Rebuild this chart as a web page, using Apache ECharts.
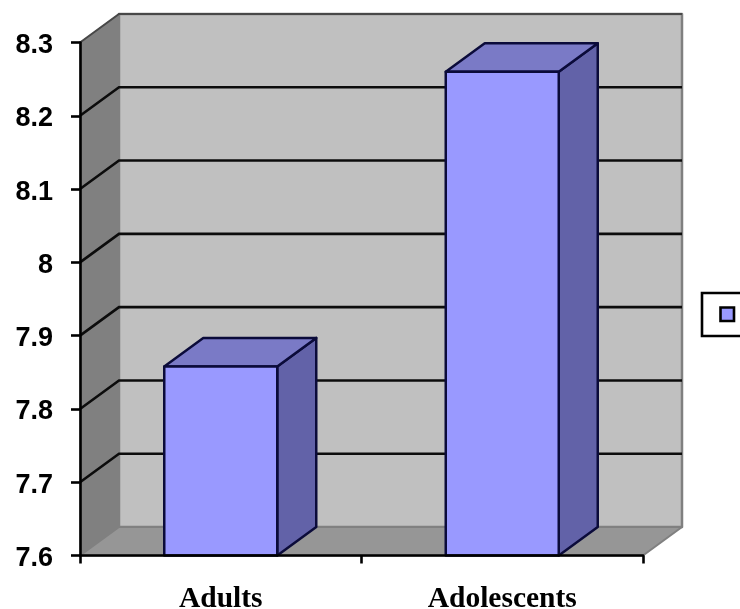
<!DOCTYPE html>
<html>
<head>
<meta charset="utf-8">
<style>html,body{margin:0;padding:0;background:#fff;overflow:hidden}#chart{width:740px;height:609px}</style>
<script src="https://cdn.jsdelivr.net/npm/echarts@6/dist/echarts.min.js"></script>
</head>
<body>
<div id="chart"></div>
<script>
const categories = ['Adults', 'Adolescents'];
const values = [7.858, 8.26];
const yMin = 7.6;
const yMax = 8.3;
const yStep = 0.1;
const yGridLevels = [7.7, 7.8, 7.9, 8.0, 8.1, 8.2];

// Oblique projection of the chart box: how far the back plane is shifted from the front plane.
const DEPTH_X = 39;
const DEPTH_Y = -28.5;
const BAR_WIDTH = 113;

const chart = echarts.init(document.getElementById('chart'));

function poly(points, fill, stroke, lineWidth) {
  return {
    type: 'polygon',
    shape: { points: points },
    style: { fill: fill, stroke: stroke || 'none', lineWidth: lineWidth || 0, lineJoin: 'round' }
  };
}

// Back wall, side wall, floor and the gridlines that fold across both walls.
function renderBox(params, api) {
  const grid = params.coordSys;
  const x0 = grid.x;
  const x1 = grid.x + grid.width;
  const yb = api.coord([0, yMin])[1];
  const yt = api.coord([0, yMax])[1];
  const children = [
    poly([[x0 + DEPTH_X, yt + DEPTH_Y], [x1 + DEPTH_X, yt + DEPTH_Y], [x1 + DEPTH_X, yb + DEPTH_Y], [x0 + DEPTH_X, yb + DEPTH_Y]], '#c0c0c0', '#808080', 2.5),
    poly([[x0, yt], [x0 + DEPTH_X, yt + DEPTH_Y], [x0 + DEPTH_X, yb + DEPTH_Y], [x0, yb]], '#808080', '#808080', 1),
    poly([[x0, yb], [x0 + DEPTH_X, yb + DEPTH_Y], [x1 + DEPTH_X, yb + DEPTH_Y], [x1, yb]], '#969696', '#808080', 2)
  ];
  yGridLevels.concat([yMax]).forEach(function (level) {
    const y = api.coord([0, level])[1];
    const isTop = level === yMax;
    children.push({
      type: 'polyline',
      shape: { points: [[x0, y], [x0 + DEPTH_X, y + DEPTH_Y], [x1 + DEPTH_X, y + DEPTH_Y]] },
      style: { fill: 'none', stroke: isTop ? '#484848' : '#0c0c0c', lineWidth: isTop ? 2 : 2.6 }
    });
  });
  return { type: 'group', children: children };
}

// One bar as an extruded box: front face, top face and right-hand face.
function renderBar(params, api) {
  const cx = api.coord([api.value(0), yMin])[0];
  const yb = api.coord([api.value(0), yMin])[1];
  const yt = api.coord([api.value(0), api.value(1)])[1];
  const l = cx - BAR_WIDTH / 2;
  const r = cx + BAR_WIDTH / 2;
  const edge = '#0b0b3a';
  return {
    type: 'group',
    children: [
      poly([[r, yt], [r + DEPTH_X, yt + DEPTH_Y], [r + DEPTH_X, yb + DEPTH_Y], [r, yb]], '#6262a8', edge, 2.5),
      poly([[l, yt], [l + DEPTH_X, yt + DEPTH_Y], [r + DEPTH_X, yt + DEPTH_Y], [r, yt]], '#7a7ac6', edge, 2.5),
      poly([[l, yt], [r, yt], [r, yb], [l, yb]], '#9999ff', edge, 2.5)
    ]
  };
}

chart.setOption({
  animation: false,
  backgroundColor: '#ffffff',
  grid: { left: 80, right: 97, top: 42.5, bottom: 53.5, containLabel: false, outerBoundsMode: 'none' },
  xAxis: {
    type: 'category',
    data: categories,
    z: 5,
    axisLine: { show: true, lineStyle: { color: '#000', width: 2.6 } },
    axisTick: { show: true, length: 8, lineStyle: { color: '#000', width: 2.6 } },
    axisLabel: {
      color: '#000', fontFamily: 'Liberation Serif', fontWeight: 'bold', fontSize: 29.5, margin: 29, interval: 0
    },
    splitLine: { show: false }
  },
  yAxis: {
    type: 'value',
    min: yMin,
    max: yMax,
    interval: yStep,
    z: 5,
    axisLine: { show: true, lineStyle: { color: '#000', width: 2.6 } },
    axisTick: { show: true, length: 9, lineStyle: { color: '#000', width: 2.6 } },
    axisLabel: {
      margin: 27,
      // Tick numbers sit slightly below their tick marks, hence the top padding.
      rich: {
        tick: {
          color: '#000', fontFamily: 'Liberation Sans', fontWeight: 'bold', fontSize: 27,
          padding: [6, 0, 0, 0]
        }
      },
      formatter: function (v) { return '{tick|' + Number(v.toFixed(1)) + '}'; }
    },
    splitLine: { show: false }
  },
  series: [
    {
      type: 'custom',
      renderItem: renderBox,
      data: [[0, yMin]],
      clip: false,
      silent: true,
      z: 1
    },
    {
      type: 'custom',
      name: '',
      renderItem: renderBar,
      encode: { x: 0, y: 1 },
      data: categories.map(function (c, i) { return [i, values[i]]; }),
      clip: false,
      z: 2
    }
  ],
  graphic: [
    { type: 'rect', shape: { x: 702, y: 293, width: 60, height: 43 }, style: { fill: '#fff', stroke: '#000', lineWidth: 2.6 }, z: 10 },
    { type: 'rect', shape: { x: 720.5, y: 307.5, width: 13.5, height: 13.5 }, style: { fill: '#9999ff', stroke: '#000', lineWidth: 2.6 }, z: 11 }
  ]
});
</script>
</body>
</html>
